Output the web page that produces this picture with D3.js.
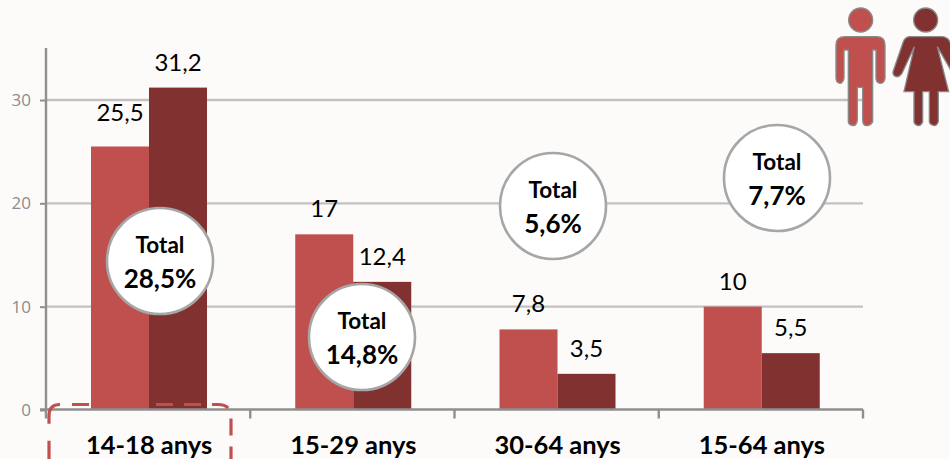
<!DOCTYPE html>
<html><head><meta charset="utf-8">
<script src="https://cdnjs.cloudflare.com/ajax/libs/d3/7.8.5/d3.min.js"></script>
<style>html,body{margin:0;padding:0;background:#fcfbfa;overflow:hidden}svg{display:block}text{font-family:Lato,"Open Sans",sans-serif}</style>
</head><body><svg id="c" width="950" height="459"></svg>
<script>
const categories=["14-18 anys","15-29 anys","30-64 anys","15-64 anys"];
const men=[25.5,17,7.8,10];
const women=[31.2,12.4,3.5,5.5];
const menLabels=["25,5","17","7,8","10"];
const womenLabels=["31,2","12,4","3,5","5,5"];
const totals=["28,5%","14,8%","5,6%","7,7%"];
const yTicks=[0,10,20,30];
const colors=["#c0504d","#823131"];

const svg=d3.select("#c");
const W=950,H=459;
svg.append("rect").attr("width",W).attr("height",H).attr("fill","#fcfbfa");
const m={l:46,r:863,t:48,b:409.5};
const x=d3.scaleBand().domain(categories).range([m.l,m.r]);
const y=d3.scaleLinear().domain([0,30]).range([410,100]);
const inner=d3.scaleBand().domain([0,1]).range([45,161]);

// layout of the annotations (pixels, independent of the data)
const bubbleCenters=[[160,261],[362,337],[553,206],[777,178]];
const menLabelGap=[26,17,17,17];

// gridlines
svg.append("g").selectAll("line").data(yTicks.slice(1)).join("line")
 .attr("x1",m.l).attr("x2",m.r).attr("y1",d=>y(d)).attr("y2",d=>y(d))
 .attr("stroke","#c4c2c0").attr("stroke-width",2.4);

// bars
const groups=svg.append("g").selectAll("g").data(categories).join("g")
 .attr("transform",d=>`translate(${x(d)},0)`);
[men,women].forEach((s,k)=>{
 groups.append("rect")
  .attr("x",inner(k)).attr("width",inner.bandwidth())
  .attr("y",(d,i)=>y(s[i])).attr("height",(d,i)=>m.b-y(s[i]))
  .attr("fill",colors[k]);
});

// axes
const yAxis=d3.axisLeft(y).tickValues(yTicks).tickSize(6).tickPadding(6).tickFormat(d3.format("d"));
const gy=svg.append("g").attr("transform",`translate(${m.l},0)`).call(yAxis);
gy.select(".domain").remove();
gy.selectAll("line").attr("stroke","#8f8f8f").attr("stroke-width",2);
gy.selectAll("text").attr("fill","#8c8c8c").attr("font-size",17).style("font-family","'Open Sans',sans-serif").attr("x",-15);
svg.append("line").attr("x1",m.l).attr("x2",m.l).attr("y1",m.t).attr("y2",m.b+9).attr("stroke","#8f8f8f").attr("stroke-width",2.4);
svg.append("line").attr("x1",m.l-6).attr("x2",m.r).attr("y1",m.b).attr("y2",m.b).attr("stroke","#8f8f8f").attr("stroke-width",2.4);
svg.append("g").selectAll("line").data(categories).join("line")
 .attr("x1",d=>x(d)+x.bandwidth()).attr("x2",d=>x(d)+x.bandwidth())
 .attr("y1",m.b).attr("y2",m.b+9).attr("stroke","#8f8f8f").attr("stroke-width",2.4);

// category labels
svg.append("g").selectAll("text").data(categories).join("text")
 .attr("x",d=>x(d)+x.bandwidth()/2+1).attr("y",454)
 .attr("text-anchor","middle").attr("font-size",25.5).attr("font-weight",700).attr("fill","#000")
 .text(d=>d);

// value labels
[[men,menLabels],[women,womenLabels]].forEach(([s,l],k)=>{
 groups.append("text")
  .attr("x",inner(k)+inner.bandwidth()/2).attr("y",(d,i)=>y(s[i])-(k?17:menLabelGap[i]))
  .attr("text-anchor","middle").attr("font-size",24).attr("fill","#000")
  .text((d,i)=>l[i]);
});

// highlight
const hl=svg.append("g").attr("fill","none").attr("stroke","#c0504d").attr("stroke-width",3.2);
hl.append("path").attr("d","M72,404.5H218Q231,404.5 231,417V475").attr("stroke-dasharray","17 11");
hl.append("path").attr("d","M60,404.5Q49,404.5 49,416V475").attr("stroke-dasharray","26 17");

// total bubbles
const b=svg.append("g").selectAll("g").data(totals).join("g")
 .attr("transform",(d,i)=>`translate(${bubbleCenters[i]})`);
b.append("circle").attr("r",53).attr("fill","#fff").attr("stroke","#a6a6a6").attr("stroke-width",2.6);
b.append("text").attr("y",-8).attr("text-anchor","middle").attr("font-size",22.5).attr("font-weight",700).text("Total");
b.append("text").attr("y",27).attr("text-anchor","middle").attr("font-size",26).attr("font-weight",700).text(d=>d);

// pictograms
const ic=svg.append("g").attr("transform","translate(820,0) scale(0.3333)");
const man=ic.append("g").attr("fill",colors[0]).attr("stroke","#8a8a8a").attr("stroke-width",4);
man.append("circle").attr("cx",122).attr("cy",60).attr("r",36);
man.append("path").attr("d","M48,135Q48,110 75,110H170Q195,110 195,135V235Q192,250 180,250Q168,248 168,235V150H158V365Q150,380 135,376Q128,372 128,360V262H112V360Q110,380 95,376Q85,372 85,365V150H72V235Q68,250 60,250Q48,248 48,235Z");
const woman=ic.append("g").attr("fill",colors[1]).attr("stroke","#8a8a8a").attr("stroke-width",4);
woman.append("circle").attr("cx",317).attr("cy",60).attr("r",36);
woman.append("path").attr("d","M268,110H368Q385,112 392,130L425,215Q425,232 412,232Q402,230 398,220L352,140L386,275H355V365Q350,380 340,376Q328,372 328,365V275H308V365Q302,380 292,376Q282,372 282,365V275H252L283,140L245,222Q238,232 228,230Q216,226 220,212L250,125Q255,112 268,110Z");
</script></body></html>
